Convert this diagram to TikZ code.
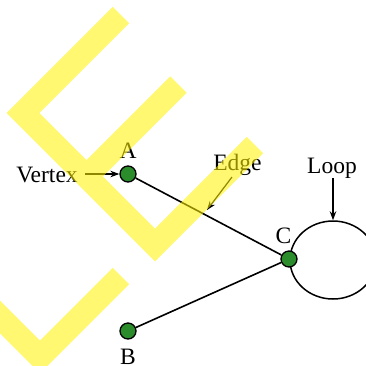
\documentclass[tikz,border=0pt]{standalone}
\usepackage{fontspec}
\setmainfont{Liberation Serif}
\usetikzlibrary{arrows.meta,shapes.geometric}
\definecolor{vgreen}{RGB}{42,140,42}
\begin{document}
\begin{tikzpicture}[x=1pt,y=-1pt,
  vert/.style={circle,draw=black,fill=vgreen,line width=1.3pt,minimum size=16pt,inner sep=0pt},
  lbl/.style={font=\fontsize{23.5}{28}\selectfont,inner sep=0pt,anchor=base},
  edgeline/.style={line width=1.6pt},
  arr/.style={line width=1.2pt,-{Stealth[length=9pt,width=6.5pt]}},
  band/.style={draw=yellow,line width=23pt,opacity=0.56,line join=miter,line cap=butt}]
\useasboundingbox (0,0) rectangle (366,365);
% loop
\node[ellipse,draw=black,line width=1.5pt,minimum width=86pt,minimum height=78pt,inner sep=0pt] (loop) at (333,260) {};
% vertices
\node[vert] (A) at (128,174) {};
\node[vert] (B) at (128,331) {};
\node[vert] (C) at (289,259) {};
\draw[edgeline] (A) -- (C);
\draw[edgeline] (B) -- (C);
% labels
\node[lbl] (lA) at (128,158) {A};
\node[lbl] (lB) at (128,364) {B};
\node[lbl] (lC) at (283.5,243) {C};
\node[lbl] (vtx) at (47,182) {Vertex};
\node[lbl] (edg) at (237.5,170) {Edge};
\node[lbl] (lp) at (332,173) {Loop};
% pointer arrows
\coordinate (vfrom) at (85,174);
\draw[arr] (vfrom) -- (A);
\coordinate (efrom) at (232,177);
\coordinate (eto) at (207,210);
\draw[arr] (efrom) -- (eto);
\coordinate (lpfrom) at (333,178);
\draw[arr] (lpfrom) -- (loop.north);
% yellow overlay
\begin{scope}
\clip (0,0) rectangle (366,365);
\path[band] (121,15) -- (23,113) -- (155,245) -- (255,145)
  (86.5,176.5) -- (178.5,84.5)
  (-30,287) -- (40,357) -- (121,276);
\end{scope}
\end{tikzpicture}
\end{document}
